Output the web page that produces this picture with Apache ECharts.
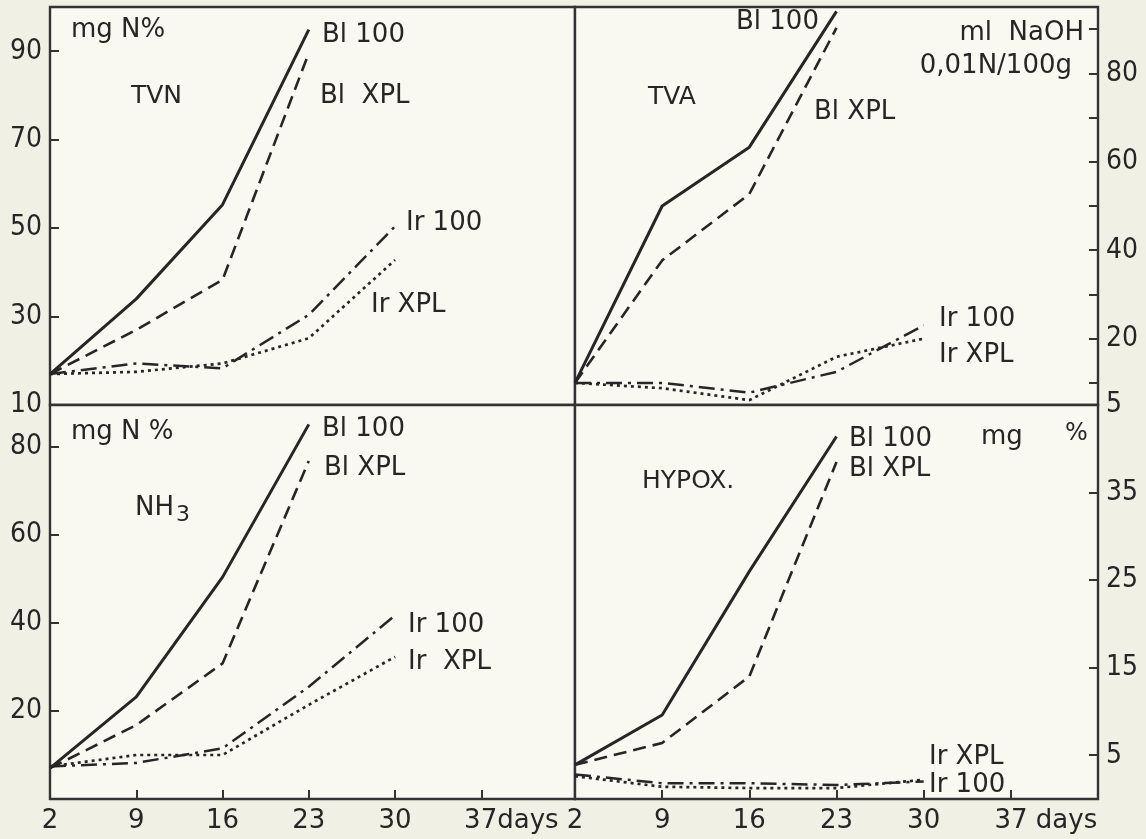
<!DOCTYPE html>
<html><head><meta charset="utf-8">
<script src="https://cdn.jsdelivr.net/npm/echarts@6/dist/echarts.min.js"></script>
<style>html,body{margin:0;padding:0;background:#f1f0e5}#c{width:1146px;height:839px}</style>
</head><body><div id="c"></div>
<script>
// ---- data ----
const days = [2, 9, 16, 23, 30];
const xLabelDays = [2, 9, 16, 23, 30, 37];
const xTickDays = [9, 16, 23, 30, 37];

// TVN (mg N%)
const tvnBl100 = [17, 34, 55.3, 94.9];
const tvnBlXPL = [17, 27, 38.3, 89.6];
const tvnIr100 = [17, 19.4, 18.3, 30.4, 50.4];
const tvnIrXPL = [17, 17.5, 19.4, 25.1, 42.8];
const tvnLabels = [10, 30, 50, 70, 90];
const tvnTicks = [30, 50, 70, 90];

// TVA (ml NaOH 0,01N/100g)
const tvaBl100 = [10, 50, 63.3, 94];
const tvaBlXPL = [10, 37.7, 52.7, 90.3];
const tvaIr100 = [10, 10, 7.8, 12.5, 23];
const tvaIrXPL = [10, 8.8, 6.1, 15.9, 20];
const tvaLabels = [5, 20, 40, 60, 80];
const tvaTicks = [10, 20, 30, 40, 50, 60, 70, 80, 90];

// NH3 (mg N%)
const nh3Bl100 = [7, 23.2, 50.4, 85.1];
const nh3BlXPL = [7, 16.8, 30.8, 76.8];
const nh3Ir100 = [7.4, 8.2, 11.5, 25.5, 41.7];
const nh3IrXPL = [7.4, 10, 10, 21.4, 32.3];
const nh3Labels = [20, 40, 60, 80];

// HYPOX (mg %)
const hypBl100 = [3.9, 9.6, 26, 41.4];
const hypBlXPL = [3.9, 6.4, 14, 38.5];
const hypIr100 = [2.8, 1.8, 1.8, 1.6, 2.0];
const hypIrXPL = [2.6, 1.4, 1.25, 1.25, 2.2];
const hypLabels = [5, 15, 25, 35];

// ---- styles ----
const INK = '#262626';
const FRAME = '#333333';
const SANS = "'DejaVu Sans', sans-serif";
const COND = "'DejaVu Sans Condensed', 'DejaVu Sans', sans-serif";
const styles = {
  bl100: { type: 'solid', width: 3 },
  blxpl: { type: [13, 7], width: 2.6 },
  ir100: { type: [16, 6, 3, 6], width: 2.5 },
  irxpl: { type: [3, 4], width: 2.7 }
};
const pairs = arr => arr.map((v, i) => [days[i], v]);
function ser(name, arr, idx, st) {
  return {
    type: 'line', name, xAxisIndex: idx, yAxisIndex: idx, data: pairs(arr),
    symbol: 'none', silent: true, animation: false,
    lineStyle: Object.assign({ color: INK, cap: 'butt', join: 'round' }, styles[st])
  };
}

const grids = [
  { left: 50, top: 7, width: 525, height: 398 },
  { left: 575, top: 7, width: 523, height: 398 },
  { left: 50, top: 405, width: 525, height: 394 },
  { left: 575, top: 405, width: 523, height: 394 }
].map(g => Object.assign(g, { show: true, borderColor: FRAME, borderWidth: 2.4, backgroundColor: '#f9f9f2' }));

function xAx(idx, bottom, lastText, max) {
  return {
    type: 'value', gridIndex: idx, min: 2, max: max, position: 'bottom',
    axisLine: { show: false }, splitLine: { show: false },
    axisTick: { show: bottom, inside: true, length: 9, customValues: xTickDays, lineStyle: { color: FRAME, width: 2 } },
    axisLabel: {
      show: bottom, customValues: xLabelDays, margin: 9, color: INK, fontFamily: SANS, fontSize: 26,
      formatter: v => v === 37 ? '{p| }{n|37}{d|' + lastText + '}' : String(v),
      rich: {
        p: { width: lastText.length > 4 ? 70 : 60, fontSize: 26, fontFamily: SANS },
        n: { fontSize: 26, fontFamily: SANS, color: INK },
        d: { fontSize: 26, fontFamily: SANS, color: INK }
      }
    }
  };
}
function yAx(idx, pos, min, max, labels, ticks) {
  return {
    type: 'value', gridIndex: idx, position: pos, min, max,
    axisLine: { show: false }, splitLine: { show: false },
    axisTick: { show: true, inside: true, length: 9, customValues: ticks, lineStyle: { color: FRAME, width: 2 } },
    axisLabel: { customValues: labels, margin: 8, color: INK, fontFamily: COND, fontSize: 28 }
  };
}

function txt(text, x, y, size, align) {
  return {
    type: 'text', x, y, silent: true,
    style: { text, fill: INK, fontSize: size || 26, fontFamily: SANS,
      align: align || 'left', verticalAlign: 'middle', textAlign: align || 'left', textVerticalAlign: 'middle' }
  };
}

const graphic = [
  // TVN
  txt('mg N%', 71, 30, 26), txt('TVN', 131, 96, 25),
  txt('Bl 100', 322, 35), txt('Bl  XPL', 320, 96), txt('Ir 100', 406, 223), txt('Ir XPL', 371, 305),
  // TVA
  txt('ml  NaOH', 1084, 33, 26, 'right'), txt('0,01N/100g', 1072, 66, 26, 'right'),
  txt('TVA', 648, 97, 25),
  txt('Bl 100', 736, 22), txt('Bl XPL', 814, 112), txt('Ir 100', 939, 319), txt('Ir XPL', 939, 355),
  // NH3
  txt('mg N %', 71, 432, 26),
  { type: 'text', x: 135, y: 508, silent: true,
    style: { text: '{a|NH}{b|3}', align: 'left', verticalAlign: 'middle', textAlign: 'left', textVerticalAlign: 'middle',
      rich: { a: { fontSize: 26, fontFamily: SANS, fill: INK, color: INK },
              b: { fontSize: 22, fontFamily: SANS, fill: INK, color: INK, padding: [14, 0, 0, 2] } } } },
  txt('Bl 100', 322, 429), txt('Bl XPL', 324, 468), txt('Ir 100', 408, 625), txt('Ir  XPL', 408, 662),
  // HYPOX
  txt('mg', 981, 437, 26), txt('%', 1065, 434, 24),
  txt('HYPOX.', 642, 481, 25),
  txt('Bl 100', 849, 439), txt('Bl XPL', 849, 469), txt('Ir XPL', 929, 757), txt('Ir 100', 929, 785)
];

const option = {
  backgroundColor: '#f1f0e5',
  animation: false,
  grid: grids,
  xAxis: [xAx(0, false, 'days', 44.6), xAx(1, false, ' days', 44), xAx(2, true, 'days', 44.6), xAx(3, true, ' days', 44)],
  yAxis: [
    yAx(0, 'left', 10, 100, tvnLabels, tvnTicks),
    yAx(1, 'right', 5, 95, tvaLabels, tvaTicks),
    yAx(2, 'left', 0, 89.5, nh3Labels, nh3Labels),
    yAx(3, 'right', 0, 45, hypLabels, hypLabels)
  ],
  series: [
    ser('Bl 100', tvnBl100, 0, 'bl100'), ser('Bl XPL', tvnBlXPL, 0, 'blxpl'),
    ser('Ir 100', tvnIr100, 0, 'ir100'), ser('Ir XPL', tvnIrXPL, 0, 'irxpl'),
    ser('Bl 100', tvaBl100, 1, 'bl100'), ser('Bl XPL', tvaBlXPL, 1, 'blxpl'),
    ser('Ir 100', tvaIr100, 1, 'ir100'), ser('Ir XPL', tvaIrXPL, 1, 'irxpl'),
    ser('Bl 100', nh3Bl100, 2, 'bl100'), ser('Bl XPL', nh3BlXPL, 2, 'blxpl'),
    ser('Ir 100', nh3Ir100, 2, 'ir100'), ser('Ir XPL', nh3IrXPL, 2, 'irxpl'),
    ser('Bl 100', hypBl100, 3, 'bl100'), ser('Bl XPL', hypBlXPL, 3, 'blxpl'),
    ser('Ir 100', hypIr100, 3, 'ir100'), ser('Ir XPL', hypIrXPL, 3, 'irxpl')
  ],
  graphic
};
const chart = echarts.init(document.getElementById('c'), null, { renderer: 'canvas' });
chart.setOption(option);
</script></body></html>
